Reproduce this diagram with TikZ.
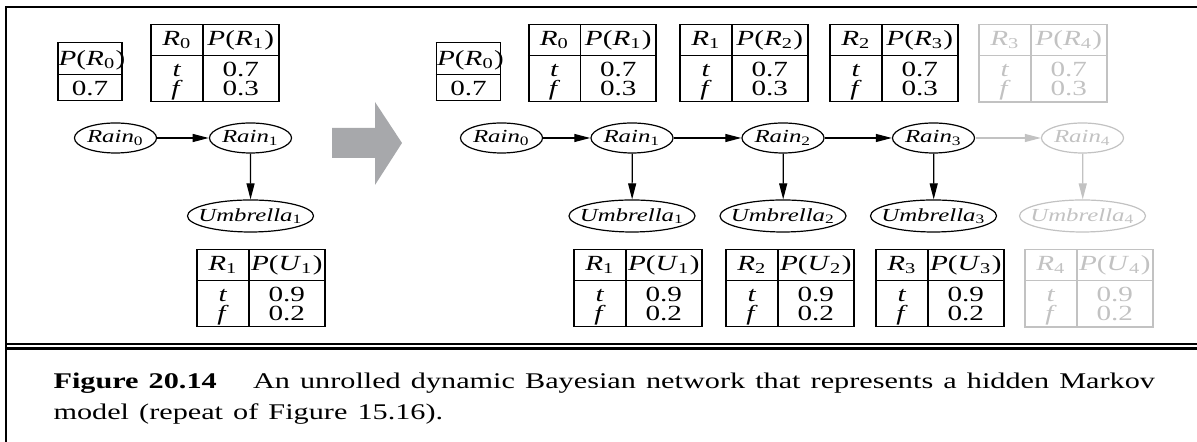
\documentclass[tikz,border=0pt]{standalone}
\usepackage{fontspec}
\setmainfont{Liberation Serif}
\usepackage{array}
\usepackage{tikz}
\usetikzlibrary{arrows.meta,shapes.geometric}
\usepackage{xcolor}
\definecolor{ghost}{gray}{0.76}
\definecolor{bigarrow}{HTML}{A7A8AB}
\newcolumntype{C}[1]{>{\centering\arraybackslash}p{#1}}
\newcommand{\rvar}[2]{\textit{#1}\textsubscript{#2}}
\newcommand{\pof}[2]{\textit{P}(\rvar{#1}{#2})}
\newcommand{\hdstrut}{\rule[-4.8pt]{0pt}{14.8pt}}
\newcommand{\tstrut}{\rule[-1.5pt]{0pt}{12pt}}
\newcommand{\fstrut}{\rule[-2.4pt]{0pt}{10.4pt}}
\newcommand{\cpt}[4]{\renewcommand{\arraystretch}{0}\setlength{\tabcolsep}{0pt}\setlength{\arrayrulewidth}{0.6pt}\begin{tabular}{|C{18.5pt}|C{27.5pt}|}\hline\hdstrut#1&#2\\\hline\tstrut\textit{t}&#3\\\fstrut\textit{f}&#4\\\hline\end{tabular}}
\newcommand{\prior}[2]{\renewcommand{\arraystretch}{0}\setlength{\tabcolsep}{0pt}\setlength{\arrayrulewidth}{0.6pt}\begin{tabular}{|C{23.2pt}|}\hline\rule[-4.3pt]{0pt}{15.5pt}#1\\\hline\rule[-2pt]{0pt}{12.2pt}#2\\\hline\end{tabular}}
\newcommand{\Rn}[1]{\makebox[0pt]{\textit{Rain}\textsubscript{#1}}}
\newcommand{\Um}[1]{\makebox[0pt]{\textit{Umbrella}\textsubscript{#1}}}

\begin{document}
\begin{tikzpicture}[x=0.37037pt,y=-0.5pt,xscale=1.35,every node/.style={transform shape},cptbox/.style={inner sep=0pt,font=\fontsize{10.8pt}{13pt}\selectfont},rain/.style={ellipse,draw,line width=0.6pt,inner sep=0pt,minimum width=30.4pt,minimum height=15pt,font=\fontsize{9.2pt}{11pt}\selectfont},umb/.style={rain,minimum width=46.7pt,minimum height=16pt},faded/.style={draw=ghost,text=ghost},conn/.style={-{Triangle[length=8pt,width=4pt]},line width=0.6pt}]
\useasboundingbox (0,0) rectangle (1197,442);
\draw[line width=1pt] (6,442) -- (6,7) -- (1197,7); \draw[line width=1.1pt] (6,344) -- (1197,344) (6,348.5) -- (1197,348.5);
\node[cptbox] (p0L) at (90,71.5) {\prior{\pof{R}{0}}{0.7}}; \node[cptbox] (t1L) at (215,63) {\cpt{\rvar{R}{0}}{\pof{R}{1}}{0.7}{0.3}};
\node[rain] (r0L) at (115.5,138) {\Rn0}; \node[rain] (r1L) at (250.5,138) {\Rn1}; \node[umb] (u1L) at (250.5,216) {\Um1};
\node[cptbox] (s1L) at (261,288) {\cpt{\rvar{R}{1}}{\pof{U}{1}}{0.9}{0.2}};
\draw[conn] (r0L) -- (r1L); \draw[conn] (r1L) -- (u1L);
\fill[bigarrow] (332,128) -- (375,128) -- (375,102) -- (402,143) -- (375,185) -- (375,158) -- (332,158) -- cycle;
\node[cptbox] (p0) at (468.5,71.5) {\prior{\pof{R}{0}}{0.7}}; \node[cptbox] (t1) at (592.5,63) {\cpt{\rvar{R}{0}}{\pof{R}{1}}{0.7}{0.3}}; \node[cptbox] (t2) at (744,63) {\cpt{\rvar{R}{1}}{\pof{R}{2}}{0.7}{0.3}}; \node[cptbox] (t3) at (894,63) {\cpt{\rvar{R}{2}}{\pof{R}{3}}{0.7}{0.3}}; \node[cptbox,faded] (t4) at (1043,63) {\cpt{\rvar{R}{3}}{\pof{R}{4}}{0.7}{0.3}};
\node[rain] (r0) at (501.5,138) {\Rn0}; \node[rain] (r1) at (632,138) {\Rn1}; \node[rain] (r2) at (783,138) {\Rn2}; \node[rain] (r3) at (933.5,138) {\Rn3}; \node[rain,faded] (r4) at (1082.5,138) {\Rn4};
\node[umb] (u1) at (632,216) {\Um1}; \node[umb] (u2) at (783,216) {\Um2}; \node[umb] (u3) at (933.5,216) {\Um3}; \node[umb,faded] (u4) at (1082.5,216) {\Um4};
\node[cptbox] (s1) at (638,288) {\cpt{\rvar{R}{1}}{\pof{U}{1}}{0.9}{0.2}}; \node[cptbox] (s2) at (790,288) {\cpt{\rvar{R}{2}}{\pof{U}{2}}{0.9}{0.2}}; \node[cptbox] (s3) at (940,288) {\cpt{\rvar{R}{3}}{\pof{U}{3}}{0.9}{0.2}}; \node[cptbox,faded] (s4) at (1089,288) {\cpt{\rvar{R}{4}}{\pof{U}{4}}{0.9}{0.2}};
\draw[conn] (r0) -- (r1); \draw[conn] (r1) -- (r2); \draw[conn] (r2) -- (r3); \draw[conn,draw=ghost] (r3) -- (r4);
\draw[conn] (r1) -- (u1); \draw[conn] (r2) -- (u2); \draw[conn] (r3) -- (u3); \draw[conn,draw=ghost] (r4) -- (u4);
\node[anchor=north west,inner sep=0pt,text width=394pt,align=left,font=\fontsize{11.2pt}{15.5pt}\selectfont] (cap) at (53,373) {\makebox[394pt][s]{\textbf{Figure 20.14}\hspace{1.2em}An unrolled dynamic Bayesian network that represents a hidden Markov}\\model (repeat of Figure 15.16).};
\end{tikzpicture}
\end{document}
